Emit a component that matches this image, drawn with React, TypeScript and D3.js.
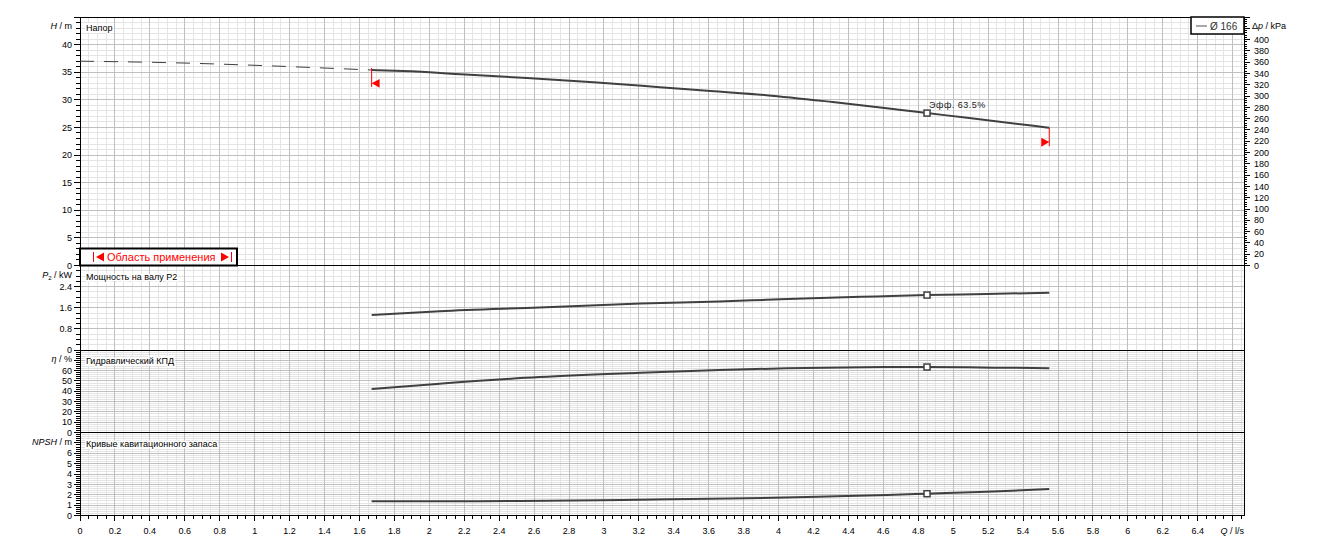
import React from 'react';
import * as d3 from 'd3';

// ---------- data ----------
const flowDashed = [0, 0.55, 0.96, 1.37, 1.67];
const headDashed = [37.0, 36.7, 36.3, 35.8, 35.4];

const flowHead = [1.67, 1.85, 2.18, 2.56, 2.94, 3.32, 3.61, 3.93, 4.31, 4.69, 4.85, 5.08, 5.46, 5.55];
const head = [35.4, 35.2, 34.65, 33.95, 33.2, 32.3, 31.6, 30.85, 29.6, 28.2, 27.6, 26.75, 25.3, 24.95];

const flowPower = [1.67, 2.06, 2.63, 3.21, 3.66, 3.93, 4.24, 4.56, 4.85, 5.19, 5.55];
const power = [1.33, 1.47, 1.61, 1.76, 1.84, 1.9, 1.97, 2.03, 2.08, 2.12, 2.17];

const flowEff = [1.67, 2.06, 2.63, 3.21, 3.66, 4.05, 4.48, 4.85, 5.23, 5.55];
const eff = [42.2, 47.3, 53.8, 58.0, 60.6, 62.3, 63.3, 63.5, 62.9, 62.4];

const flowNpsh = [1.67, 2.2, 2.45, 2.98, 3.37, 3.72, 4.1, 4.62, 4.85, 5.15, 5.55];
const npsh = [1.38, 1.38, 1.4, 1.48, 1.56, 1.63, 1.76, 1.97, 2.1, 2.26, 2.55];

const bepFlow = 4.85;
const bepHead = 27.6;
const bepPower = 2.08;
const bepEff = 63.5;
const bepNpsh = 2.1;
const bepLabel = 'Эфф. 63.5%';
const rangeMin = 1.67;
const rangeMax = 5.55;
const rangeMinHead = 35.4;
const rangeMaxHead = 24.95;
const impellerLabel = 'Ø 166';
const rangeLabel = 'Область применения';

const qTicks = [0, 0.2, 0.4, 0.6, 0.8, 1, 1.2, 1.4, 1.6, 1.8, 2, 2.2, 2.4, 2.6, 2.8, 3, 3.2, 3.4, 3.6, 3.8, 4, 4.2, 4.4, 4.6, 4.8, 5, 5.2, 5.4, 5.6, 5.8, 6, 6.2, 6.4];
const headTicks = [0, 5, 10, 15, 20, 25, 30, 35, 40];
const powerTicks = [0, 0.8, 1.6, 2.4];
const effTicks = [0, 10, 20, 30, 40, 50, 60];
const npshTicks = [0, 1, 2, 3, 4, 5, 6];
const dpTicks = [0, 20, 40, 60, 80, 100, 120, 140, 160, 180, 200, 220, 240, 260, 280, 300, 320, 340, 360, 380, 400];

const panelTitles = ['Напор', 'Мощность на валу  P2', 'Гидравлический КПД', 'Кривые кавитационного запаса'];

// ---------- layout ----------
const W = 1323;
const HGT = 550;
const L = 80;
const R = 1244;
const FONT = 'Liberation Sans, Arial, sans-serif';
const CURVE = '#404040';
const MINOR = '#e4e4e4';
const MAJOR = '#c0c0c0';

const x = d3.scaleLinear().domain([0, 6.665]).range([L, R]);

type Panel = {
  y: d3.ScaleLinear<number, number>;
  top: number;
  bottom: number;
  minorStep: number;
  majorEvery: number;
  count: number;
  ticks: number[];
  fmt: (v: number) => string;
  title: React.ReactNode;
  label: string;
};

const fmt = (v: number) => String(+v.toFixed(1));

const panels: Panel[] = [
  {
    y: d3.scaleLinear().domain([0, 45]).range([265.5, 17]),
    top: 17, bottom: 265.5, minorStep: 1, majorEvery: 5, count: 45,
    ticks: headTicks, fmt,
    title: (<><tspan fontStyle="italic">H</tspan><tspan> / m</tspan></>),
    label: panelTitles[0],
  },
  {
    y: d3.scaleLinear().domain([0, 3.2]).range([350, 265.5]),
    top: 265.5, bottom: 350, minorStep: 0.2, majorEvery: 4, count: 16,
    ticks: powerTicks, fmt,
    title: (<><tspan fontStyle="italic">P</tspan><tspan fontSize="6" dy="2">2</tspan><tspan dy="-2"> / kW</tspan></>),
    label: panelTitles[1],
  },
  {
    y: d3.scaleLinear().domain([0, 80]).range([432.5, 350]),
    top: 350, bottom: 432.5, minorStep: 2, majorEvery: 5, count: 40,
    ticks: effTicks, fmt,
    title: (<><tspan fontStyle="italic">η</tspan><tspan> / %</tspan></>),
    label: panelTitles[2],
  },
  {
    y: d3.scaleLinear().domain([0, 8]).range([515.5, 432.5]),
    top: 432.5, bottom: 515.5, minorStep: 0.2, majorEvery: 5, count: 40,
    ticks: npshTicks, fmt,
    title: (<><tspan fontStyle="italic">NPSH</tspan><tspan> / m</tspan></>),
    label: panelTitles[3],
  },
];

const yDp = d3.scaleLinear().domain([0, 440]).range([265.5, 17]);

function mkLine(xs: number[], ys: number[], y: d3.ScaleLinear<number, number>) {
  const gen = d3
    .line<[number, number]>()
    .x((d) => x(d[0]))
    .y((d) => y(d[1]))
    .curve(d3.curveMonotoneX);
  return gen(xs.map((q, i) => [q, ys[i]] as [number, number])) || '';
}

export default function App() {
  const qMinor = d3.range(0, 134).map((i) => i * 0.05);
  const hp = panels[0];

  return (
    <svg
      width={W}
      height={HGT}
      style={{ position: 'absolute', left: 0, top: 0, background: '#fff' }}
      fontFamily={FONT}
    >
      <rect x={0} y={0} width={W} height={HGT} fill="#fff" />

      {/* grids */}
      {panels.map((p, pi) => (
        <g key={'grid' + pi} shapeRendering="crispEdges">
          {qMinor.map((q, i) => (
            <line key={'vm' + i} x1={x(q)} x2={x(q)} y1={p.top} y2={p.bottom} stroke={i % 4 === 0 ? MAJOR : MINOR} strokeWidth={1} />
          ))}
          {d3.range(0, p.count + 1).map((i) => (
            i % p.majorEvery !== 0 ? (
              <line key={'hm' + i} x1={L} x2={R} y1={p.y(i * p.minorStep)} y2={p.y(i * p.minorStep)} stroke={MINOR} />
            ) : null
          ))}
          {qMinor.filter((_, i) => i % 4 === 0).map((q, i) => (
            <line key={'vM' + i} x1={x(q)} x2={x(q)} y1={p.top} y2={p.bottom} stroke={MAJOR} />
          ))}
          {d3.range(0, p.count + 1).map((i) => (
            i % p.majorEvery === 0 ? (
              <line key={'hM' + i} x1={L} x2={R} y1={p.y(i * p.minorStep)} y2={p.y(i * p.minorStep)} stroke={MAJOR} />
            ) : null
          ))}
        </g>
      ))}

      {/* panel labels with white background */}
      {panels.map((p, pi) => (
        <g key={'lab' + pi}>
          <text x={86} y={p.top + 11} fontSize={9} fill="#000" dy="0.35em" stroke="#fff" strokeWidth={3} paintOrder="stroke">
            {p.label}
          </text>
        </g>
      ))}

      {/* frame and separators */}
      <g shapeRendering="crispEdges">
        <rect x={L} y={17} width={R - L} height={515.5 - 17} fill="none" stroke="#000" strokeWidth={1} />
        {panels.slice(1).map((p, i) => (
          <line key={'sep' + i} x1={L} x2={R} y1={p.top} y2={p.top} stroke="#000" strokeWidth={1} />
        ))}
      </g>

      {/* left axes */}
      {panels.map((p, pi) => (
        <g key={'ax' + pi}>
          <g shapeRendering="crispEdges">
            {d3.range(0, p.count + 1).map((i) => {
              const yy = p.y(i * p.minorStep);
              const major = i % p.majorEvery === 0;
              return <line key={i} x1={L} x2={L - (major ? 6 : 4)} y1={yy} y2={yy} stroke="#000" />;
            })}
          </g>
          {p.ticks.map((t) => (
            <text key={t} x={72} y={p.y(t)} dy="0.35em" textAnchor="end" fontSize={9}>
              {p.fmt(t)}
            </text>
          ))}
          <text x={72} y={p.top + 9} dy="0.35em" textAnchor="end" fontSize={9}>
            {p.title}
          </text>
        </g>
      ))}

      {/* right axis Δp */}
      <g>
        <g shapeRendering="crispEdges">
          {d3.range(0, 111).map((i) => {
            const yy = yDp(i * 4);
            const major = i % 5 === 0;
            return <line key={i} x1={R} x2={R + (major ? 6 : 3)} y1={yy} y2={yy} stroke="#000" />;
          })}
        </g>
        {dpTicks.map((t) => (
          <text key={t} x={1254} y={yDp(t)} dy="0.35em" fontSize={9}>
            {t}
          </text>
        ))}
        <text x={1252} y={26} dy="0.35em" fontSize={9}>
          <tspan>Δ</tspan>
          <tspan fontStyle="italic">p</tspan>
          <tspan> / kPa</tspan>
        </text>
      </g>

      {/* bottom axis */}
      <g>
        <g shapeRendering="crispEdges">
          {qMinor.map((q, i) => (
            <line key={i} x1={x(q)} x2={x(q)} y1={515.5} y2={515.5 + (i % 4 === 0 ? 5 : 3)} stroke="#000" />
          ))}
        </g>
        {qTicks.map((q) => (
          <text key={q} x={x(q)} y={531} dy="0.35em" textAnchor="middle" fontSize={9}>
            {fmt(q)}
          </text>
        ))}
        <text x={1244} y={531} dy="0.35em" textAnchor="end" fontSize={9}>
          <tspan fontStyle="italic">Q</tspan>
          <tspan> / l/s</tspan>
        </text>
      </g>

      {/* curves */}
      <path d={mkLine(flowDashed, headDashed, hp.y)} fill="none" stroke={CURVE} strokeWidth={1} strokeDasharray="14,10" />
      <path d={mkLine(flowHead, head, hp.y)} fill="none" stroke={CURVE} strokeWidth={2} />
      <path d={mkLine(flowPower, power, panels[1].y)} fill="none" stroke={CURVE} strokeWidth={2} />
      <path d={mkLine(flowEff, eff, panels[2].y)} fill="none" stroke={CURVE} strokeWidth={2} />
      <path d={mkLine(flowNpsh, npsh, panels[3].y)} fill="none" stroke={CURVE} strokeWidth={2} />

      {/* BEP markers */}
      {[
        [bepHead, panels[0].y],
        [bepPower, panels[1].y],
        [bepEff, panels[2].y],
        [bepNpsh, panels[3].y],
      ].map(([v, s], i) => {
        const sc = s as d3.ScaleLinear<number, number>;
        return (
          <rect key={'bep' + i} x={x(bepFlow) - 3} y={sc(v as number) - 3} width={6} height={6} fill="#fff" stroke={CURVE} strokeWidth={1.5} />
        );
      })}
      <text x={x(bepFlow) + 2} y={hp.y(bepHead) - 8} dy="0.35em" fontSize={9} letterSpacing={0.5} fill="#222">
        {bepLabel}
      </text>

      {/* operating range markers */}
      {(() => {
        const y0 = hp.y(rangeMinHead);
        const y1 = hp.y(rangeMaxHead);
        const x0 = x(rangeMin);
        const x1 = x(rangeMax);
        return (
          <g>
            <line x1={x0} x2={x0} y1={y0 - 2} y2={y0 + 17} stroke="#f00" strokeWidth={1} />
            <path d={`M${x0},${y0 + 13.3} L${x0 + 8},${y0 + 9} L${x0 + 8},${y0 + 17.7} Z`} fill="#f00" />
            <line x1={x1} x2={x1} y1={y1} y2={y1 + 18.5} stroke="#f00" strokeWidth={1} />
            <path d={`M${x1},${y1 + 14.3} L${x1 - 8},${y1 + 10} L${x1 - 8},${y1 + 19} Z`} fill="#f00" />
          </g>
        );
      })()}

      {/* range legend box */}
      <g>
        <rect x={80} y={248.5} width={157} height={17} fill="#fff" stroke="#000" strokeWidth={2} />
        <line x1={93.5} x2={93.5} y1={252} y2={262} stroke="#f00" strokeWidth={1} />
        <path d="M96,257 L104,252.5 L104,261.5 Z" fill="#f00" />
        <text x={107} y={257.3} dy="0.35em" fontSize={11} fill="#f00">
          {rangeLabel}
        </text>
        <path d="M229,257 L221,252.5 L221,261.5 Z" fill="#f00" />
        <line x1={231.5} x2={231.5} y1={252} y2={262} stroke="#f00" strokeWidth={1} />
      </g>

      {/* impeller legend */}
      <g>
        <rect x={1191} y={17} width={53} height={17} fill="#fff" stroke="#000" strokeWidth={1.5} />
        <line x1={1196} x2={1207} y1={26} y2={26} stroke="#555" strokeWidth={1} />
        <text x={1210} y={26} dy="0.35em" fontSize={10} fill="#333">
          {impellerLabel}
        </text>
      </g>
    </svg>
  );
}
